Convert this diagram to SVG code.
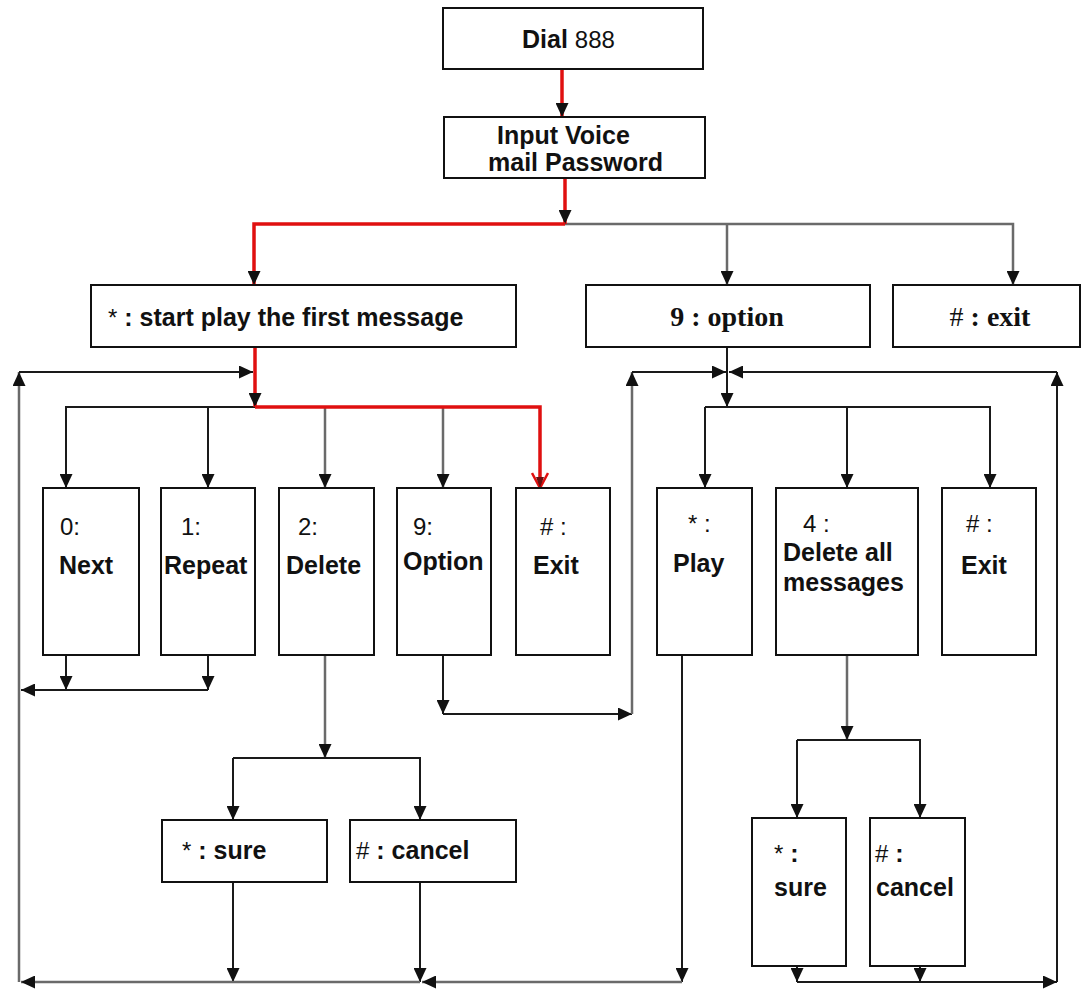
<svg xmlns="http://www.w3.org/2000/svg" width="1083" height="989" viewBox="0 0 1083 989">
<style>
.box{fill:#fff;stroke:#111;stroke-width:2}
.ln{fill:none;stroke:#1a1a1a;stroke-width:2}
.gl{fill:none;stroke:#6a6a6a;stroke-width:2.5}
.rd{fill:none;stroke:#e01010;stroke-width:3.5}
.b{font-family:"Liberation Sans",Arial,sans-serif;font-weight:bold;font-size:25px;fill:#111}
.r{font-family:"Liberation Sans",Arial,sans-serif;font-weight:normal;font-size:24px;fill:#111}
.s{font-family:"Liberation Serif","Times New Roman",serif;font-weight:bold;font-size:28px;fill:#111}
</style>
<defs>
<marker id="ah" viewBox="0 0 14 13" refX="14" refY="6.5" markerWidth="14" markerHeight="13" markerUnits="userSpaceOnUse" orient="auto"><path d="M0,0 L14,6.5 L0,13 z" fill="#111"/></marker>
<marker id="ahr" viewBox="0 0 16 18" refX="16" refY="9" markerWidth="16" markerHeight="18" markerUnits="userSpaceOnUse" orient="auto"><path d="M1,1 L16,9 L1,17" fill="none" stroke="#e01010" stroke-width="2.5"/><path d="M5,5 L16,9 L5,13 z" fill="#6a1010"/></marker>
</defs>

<g id="connectors">
<path class="rd" d="M562,69 V117" marker-end="url(#ah)"/>
<path class="gl" d="M565,224 H1013 V285" marker-end="url(#ah)"/>
<path class="gl" d="M727,224 V285" marker-end="url(#ah)"/>
<path class="rd" d="M565,178 V224" marker-end="url(#ah)"/>
<path class="rd" d="M565,224 H254 V285" marker-end="url(#ah)"/>
<path class="ln" d="M255,407 H66 V488" marker-end="url(#ah)"/>
<path class="ln" d="M208,407 V488" marker-end="url(#ah)"/>
<path class="gl" d="M325,407 V488" marker-end="url(#ah)"/>
<path class="gl" d="M443,407 V488" marker-end="url(#ah)"/>
<path class="rd" d="M255,347 V407" marker-end="url(#ah)"/>
<path class="rd" d="M255,407 H540 V488" marker-end="url(#ahr)"/>
<path class="gl" d="M19,982 V372" marker-end="url(#ah)"/>
<path class="ln" d="M19,372 H253" marker-end="url(#ah)"/>
<path class="ln" d="M66,655 V690" marker-end="url(#ah)"/>
<path class="ln" d="M208,655 V690" marker-end="url(#ah)"/>
<path class="ln" d="M208,690 H21" marker-end="url(#ah)"/>
<path class="ln" d="M443,655 V714" marker-end="url(#ah)"/>
<path class="ln" d="M443,714 H632" marker-end="url(#ah)"/>
<path class="gl" d="M632,714 V372" marker-end="url(#ah)"/>
<path class="ln" d="M632,372 H726" marker-end="url(#ah)"/>
<path class="ln" d="M1057,982 V372" marker-end="url(#ah)"/>
<path class="ln" d="M1057,372 H729" marker-end="url(#ah)"/>
<path class="ln" d="M727,347 V407" marker-end="url(#ah)"/>
<path class="ln" d="M705,407 H990 V488" marker-end="url(#ah)"/>
<path class="ln" d="M705,407 V488" marker-end="url(#ah)"/>
<path class="ln" d="M847,407 V488" marker-end="url(#ah)"/>
<path class="gl" d="M325,655 V758" marker-end="url(#ah)"/>
<path class="ln" d="M233,758 H420 V820" marker-end="url(#ah)"/>
<path class="ln" d="M233,758 V820" marker-end="url(#ah)"/>
<path class="ln" d="M233,882 V982" marker-end="url(#ah)"/>
<path class="ln" d="M420,882 V982" marker-end="url(#ah)"/>
<path class="gl" d="M420,982 H21" marker-end="url(#ah)"/>
<path class="ln" d="M682,655 V982" marker-end="url(#ah)"/>
<path class="gl" d="M682,982 H422" marker-end="url(#ah)"/>
<path class="gl" d="M847,655 V740" marker-end="url(#ah)"/>
<path class="ln" d="M797,740 H920 V818" marker-end="url(#ah)"/>
<path class="ln" d="M797,740 V818" marker-end="url(#ah)"/>
<path class="ln" d="M797,966 V982" marker-end="url(#ah)"/>
<path class="ln" d="M920,966 V982" marker-end="url(#ah)"/>
<path class="ln" d="M797,982 H1057" marker-end="url(#ah)"/>
</g>

<g id="dial"><rect class="box" x="443" y="8" width="260" height="61"/><text x="522" y="48" class="b">Dial <tspan class="r" font-size="25">888</tspan></text></g>
<g id="password"><rect class="box" x="444" y="117" width="261" height="61"/><text x="497" y="144" class="b">Input Voice</text><text x="488" y="171" class="b">mail Password</text></g>
<g id="start"><rect class="box" x="91" y="285" width="425" height="62"/><text x="108" y="326" class="b"><tspan class="r">*</tspan> : start play the first message</text></g>
<g id="option"><rect class="box" x="586" y="285" width="284" height="62"/><text x="727" y="326" class="s" text-anchor="middle">9 : option</text></g>
<g id="exit"><rect class="box" x="893" y="285" width="187" height="62"/><text x="990" y="326" class="s" text-anchor="middle"><tspan font-weight="normal">#</tspan> : exit</text></g>

<g id="next"><rect class="box" x="43" y="488" width="96" height="167"/><text x="60" y="535" class="r">0:</text><text x="59" y="574" class="b">Next</text></g>
<g id="repeat"><rect class="box" x="161" y="488" width="94" height="167"/><text x="181" y="535" class="r">1:</text><text x="164" y="574" class="b">Repeat</text></g>
<g id="delete"><rect class="box" x="279" y="488" width="95" height="167"/><text x="298" y="535" class="r">2:</text><text x="286" y="574" class="b">Delete</text></g>
<g id="opt9"><rect class="box" x="397" y="488" width="94" height="167"/><text x="413" y="535" class="r">9:</text><text x="403" y="570" class="b">Option</text></g>
<g id="exit1"><rect class="box" x="516" y="488" width="94" height="167"/><text x="540" y="535" class="r"># :</text><text x="533" y="574" class="b">Exit</text></g>

<g id="play"><rect class="box" x="657" y="488" width="95" height="167"/><text x="688" y="532" class="r">* :</text><text x="673" y="572" class="b">Play</text></g>
<g id="deleteall"><rect class="box" x="776" y="488" width="142" height="167"/><text x="803" y="532" class="r">4 :</text><text x="783" y="561" class="b">Delete all</text><text x="783" y="591" class="b">messages</text></g>
<g id="exit2"><rect class="box" x="942" y="488" width="94" height="167"/><text x="966" y="532" class="r"># :</text><text x="961" y="574" class="b">Exit</text></g>

<g id="sure"><rect class="box" x="162" y="820" width="165" height="62"/><text x="182" y="859" class="b"><tspan class="r">*</tspan> : sure</text></g>
<g id="cancel"><rect class="box" x="350" y="820" width="166" height="62"/><text x="356" y="859" class="b"><tspan class="r">#</tspan> : cancel</text></g>
<g id="sure2"><rect class="box" x="752" y="818" width="94" height="148"/><text x="774" y="862" class="b"><tspan class="r">*</tspan> :</text><text x="774" y="896" class="b">sure</text></g>
<g id="cancel2"><rect class="box" x="870" y="818" width="95" height="148"/><text x="875" y="862" class="b"><tspan class="r">#</tspan> :</text><text x="876" y="896" class="b">cancel</text></g>
</svg>
